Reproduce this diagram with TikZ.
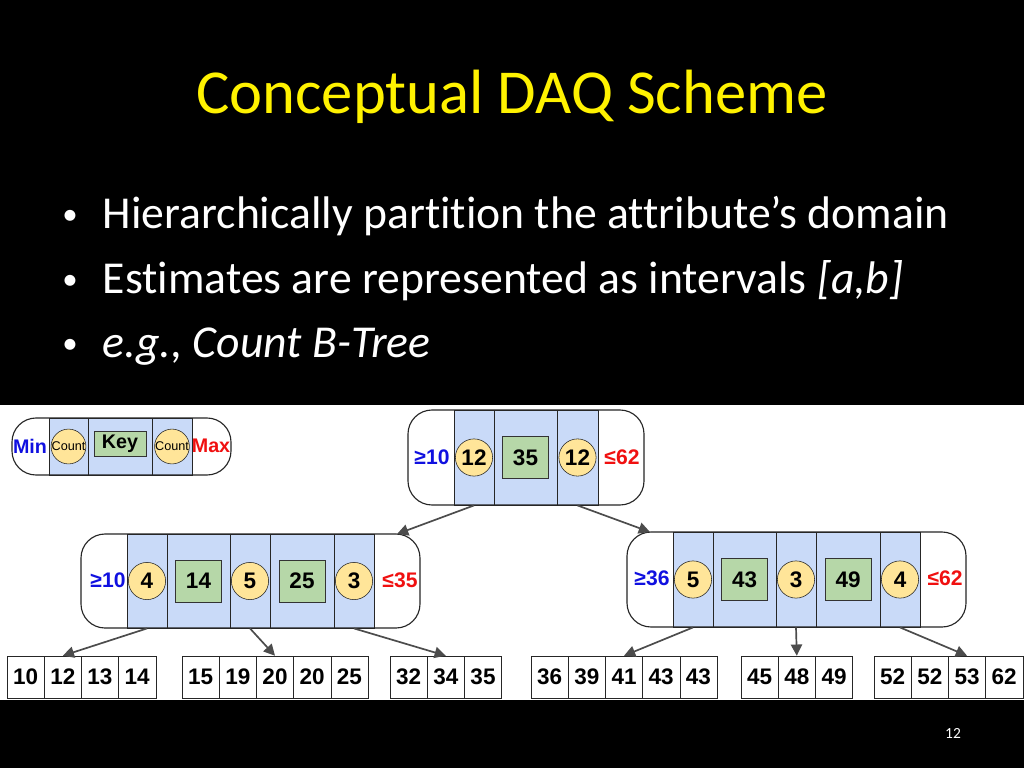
\documentclass[tikz,border=0pt]{standalone}
\usepackage{fontspec}
\setmainfont{Carlito}[Ligatures=CommonOff]
\newfontfamily\arial{Liberation Sans}
\usetikzlibrary{arrows.meta}

\definecolor{secblue}{HTML}{C9DAF8}
\definecolor{cntyellow}{HTML}{FFE599}
\definecolor{keygreen}{HTML}{B6D7A8}
\definecolor{minblue}{HTML}{1010E0}
\definecolor{maxred}{HTML}{F01010}

% cell: name, x1, x2, y1, y2, style, text
\newcommand\cell[7]{\node[#6, minimum width={((#3)-(#2))*0.25mm}, minimum height={((#5)-(#4))*0.25mm}] (#1) at ({((#2)+(#3))/2},{((#4)+(#5))/2}) {#7};}
\newcommand\blt{{\fontsize{22}{22}\selectfont\raisebox{0.12em}{\textbullet}}\hspace{0.55em}}

\tikzset{
  sec/.style={draw=black!85, fill=secblue, inner sep=0pt, line width=0.6pt},
  side/.style={inner sep=0pt, font=\arial\bfseries\fontsize{15}{15}\selectfont},
  cnt/.style={circle, draw=black!85, fill=cntyellow, minimum size=9.3mm, inner sep=0pt, font=\arial\bfseries\fontsize{16}{16}\selectfont},
  keybox/.style={draw=black!80, fill=keygreen, minimum width=11.5mm, minimum height=10.5mm, inner sep=0pt, font=\arial\bfseries\fontsize{16}{16}\selectfont},
  leaf/.style={draw=black!85, fill=white, inner sep=0pt, font=\arial\bfseries\fontsize{16}{16}\selectfont},
  outer/.style={draw=black!85, rounded corners=6mm, line width=0.8pt},
  link/.style={draw=black!70, line width=1.2pt, -{Triangle[length=2.8mm,width=2.8mm]}},
  bullet/.style={text=white, anchor=base west, inner sep=0pt, font=\fontsize{32.5}{32.5}\selectfont}
}

\begin{document}
\begin{tikzpicture}[x=0.25mm, y=-0.25mm]
\fill[black] (0,0) rectangle (1024,768);
\fill[white] (0,405) rectangle (1024,700);

%title and bullets
\node[text=yellow, font=\fontsize{44.5}{44.5}\selectfont] (title) at (512,97) {Conceptual DAQ Scheme};
\node[bullet] (b1) at (62,228) {\blt Hierarchically partition the attribute’s domain};
\node[bullet] (b2) at (62,293) {\blt Estimates are represented as intervals \textit{[a,b]}};
\node[bullet] (b3) at (62,357) {\blt\textit{e.g., Count B-Tree}};
\node[text=white, font=\fontsize{11}{11}\selectfont] (page) at (953,733) {12};

%legend
\fill[white, rounded corners=6mm] (12,418) rectangle (231,475);
\cell{gc1}{49}{88}{418}{475}{sec}{}
\cell{gk}{88}{152}{418}{475}{sec}{}
\cell{gc2}{152}{192}{418}{475}{sec}{}
\draw[outer] (12,418) rectangle (231,475);
\node[side, text=minblue, font=\arial\bfseries\fontsize{14}{14}\selectfont] (gmin) at (30,446) {Min};
\node[side, text=maxred, font=\arial\bfseries\fontsize{14}{14}\selectfont] (gmax) at (211,446) {Max};
\node[cnt, minimum size=8.6mm, font=\arial\fontsize{9}{9}\selectfont] (gcc1) at (gc1) {Count};
\node[keybox, minimum width=13mm, minimum height=6.3mm, font=\arial\bfseries\fontsize{14}{14}\selectfont] (gkey) at (120,444) {Key};
\node[cnt, minimum size=8.6mm, font=\arial\fontsize{9}{9}\selectfont] (gcc2) at (gc2) {Count};

%root
\cell{rc1}{454}{494}{410}{505}{sec}{}
\cell{rk1}{494}{557}{410}{505}{sec}{}
\cell{rc2}{557}{598}{410}{505}{sec}{}
\draw[outer] (408,410) rectangle (644,505);
\node[side, text=minblue] (rmin) at (432,457) {≥10};
\node[side, text=maxred] (rmax) at (622,457) {≤62};
\node[cnt] at (rc1) {12};
\node[keybox] at (rk1) {35};
\node[cnt] at (rc2) {12};

%left child
\cell{ac1}{127}{167}{534}{628}{sec}{}
\cell{ak1}{167}{230}{534}{628}{sec}{}
\cell{ac2}{230}{270}{534}{628}{sec}{}
\cell{ak2}{270}{334}{534}{628}{sec}{}
\cell{ac3}{334}{374}{534}{628}{sec}{}
\coordinate (amax) at (397,534);
\draw[outer] (81,534) rectangle (420,628);
\node[side, text=minblue] at (108,580) {≥10};
\node[side, text=maxred] at (400,580) {≤35};
\node[cnt] at (ac1) {4};
\node[keybox] at (ak1) {14};
\node[cnt] at (ac2) {5};
\node[keybox] at (ak2) {25};
\node[cnt] at (ac3) {3};

%right child
\cell{bc1}{673}{713}{532}{627}{sec}{}
\cell{bk1}{713}{776}{532}{627}{sec}{}
\cell{bc2}{776}{816}{532}{627}{sec}{}
\cell{bk2}{816}{880}{532}{627}{sec}{}
\cell{bc3}{880}{920}{532}{627}{sec}{}
\coordinate (bmin) at (650,532);
\draw[outer] (627,532) rectangle (966,627);
\node[side, text=minblue] at (652,578) {≥36};
\node[side, text=maxred] at (945,578) {≤62};
\node[cnt] at (bc1) {5};
\node[keybox] at (bk1) {43};
\node[cnt] at (bc2) {3};
\node[keybox] at (bk2) {49};
\node[cnt] at (bc3) {4};

%leaves
\foreach \g/\xs/\vals in {p/7/{10,12,13,14}, q/182/{15,19,20,20,25}, r/390/{32,34,35},
                          s/531/{36,39,41,43,43}, t/741/{45,48,49}, u/874/{52,52,53,62}}
  \foreach \v [count=\i] in \vals
    \cell{\g\i}{\xs+(\i-1)*37.2}{\xs+\i*37.2}{656}{698}{leaf}{\v};

%arrows
\draw[link] (rc1.south) -- (amax);
\draw[link] (rc2.south) -- (bmin);
\draw[link] (ac1.south) -- (p2.north);
\draw[link] (ac2.south) -- (q3.north);
\draw[link] (ac3.south) -- (r2.north);
\draw[link] (bc1.south) -- (s3.north);
\draw[link] (bc2.south) -- (t2.north);
\draw[link] (bc3.south) -- (u3.north);
\end{tikzpicture}
\end{document}
